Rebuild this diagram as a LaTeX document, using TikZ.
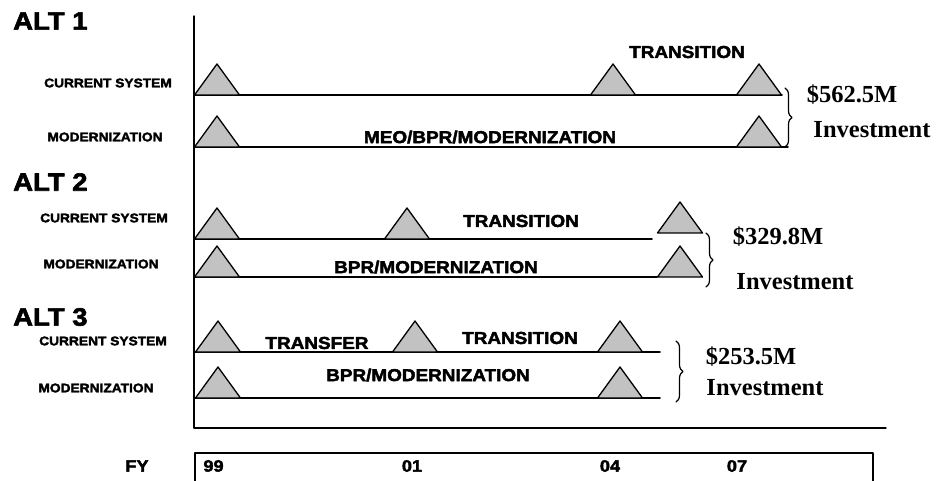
\documentclass[tikz,border=0pt]{standalone}
\usepackage{fontspec}
\setmainfont{Liberation Serif}
\setsansfont{Liberation Sans}[BoldFeatures={FakeBold=2.5,FakeStretch=1.1}]
\usetikzlibrary{decorations.pathreplacing}
\begin{document}
\begin{tikzpicture}[x=1pt,y=-1pt,line join=round,line cap=round]
\tikzset{
	tl/.style={line width=1.6pt},
	ms/.style={draw,line width=1.3pt,fill=gray!48},
	altlbl/.style={font=\sffamily\bfseries\fontsize{25}{25}\selectfont,anchor=west,inner sep=0pt},
	rowlbl/.style={font=\sffamily\bfseries\fontsize{12.5}{12.5}\selectfont,inner sep=0pt},
	phase/.style={font=\sffamily\bfseries\fontsize{17.2}{17.2}\selectfont,inner sep=0pt},
	cost/.style={font=\rmfamily\bfseries\fontsize{24.5}{24.5}\selectfont,inner sep=0pt},
	fylbl/.style={font=\sffamily\bfseries\fontsize{16.5}{16.5}\selectfont,inner sep=0pt},
	bracel/.style={line width=1.2pt,decorate,decoration={brace,amplitude=7pt}},
	milestone/.pic={\draw[ms] (-22.5,0)--(0,-31)--(22.5,0)--cycle;}
}
\useasboundingbox (0,0) rectangle (937,481);
% axes
\draw[line width=1.4pt] (194,16) coordinate (top)--(194,428) coordinate (corner)--(886,428) coordinate (axend);
\draw[line width=1.2pt] (195,481) coordinate (fyl)--(195,453)--(873,453)--(873,481) coordinate (fyr);
% ALT 1
\draw[tl] (194,95) coordinate (a1cs)--(782,95) coordinate (a1ce);
\draw[tl] (194,147) coordinate (a1ms)--(788,147) coordinate (a1me);
\foreach \x in {217,613,759} \pic at (\x,95) {milestone};
\foreach \x in {217,759} \pic at (\x,147) {milestone};
\draw[bracel] (785,88) coordinate (b1t)--(785,147) coordinate (b1b);
% ALT 2
\draw[tl] (194,239) coordinate (a2cs)--(652,239) coordinate (a2ce);
\draw[tl] (194,277) coordinate (a2ms)--(657,277) coordinate (a2me);
\foreach \x in {217,407} \pic at (\x,239) {milestone};
\pic at (680,233) {milestone};
\foreach \x in {217,680} \pic at (\x,277) {milestone};
\draw[bracel] (706,233) coordinate (b2t)--(706,287) coordinate (b2b);
% ALT 3
\draw[tl] (194,352) coordinate (a3cs)--(660,352) coordinate (a3ce);
\draw[tl] (194,398) coordinate (a3ms)--(660,398) coordinate (a3me);
\foreach \x in {218,415,620} \pic at (\x,352) {milestone};
\foreach \x in {218,620} \pic at (\x,398) {milestone};
\draw[bracel] (676,341) coordinate (b3t)--(676,402) coordinate (b3b);
\path
(13,21) node[altlbl] (alt1) {ALT 1}
(13,182) node[altlbl] (alt2) {ALT 2}
(13,317) node[altlbl] (alt3) {ALT 3}
(108,83) node[rowlbl] (cur1) {CURRENT SYSTEM}
(105,137) node[rowlbl] (mod1) {MODERNIZATION}
(104,218) node[rowlbl] (cur2) {CURRENT SYSTEM}
(101,264) node[rowlbl] (mod2) {MODERNIZATION}
(103,341) node[rowlbl] (cur3) {CURRENT SYSTEM}
(96,388) node[rowlbl] (mod3) {MODERNIZATION}
(687,52) node[phase] (tr1) {TRANSITION}
(490,137) node[phase] (meo1) {MEO/BPR/MODERNIZATION}
(521,221) node[phase] (tr2) {TRANSITION}
(436,267) node[phase] (bpr2) {BPR/MODERNIZATION}
(317,343) node[phase] (tf3) {TRANSFER}
(520,338) node[phase] (tr3) {TRANSITION}
(428,375) node[phase] (bpr3) {BPR/MODERNIZATION}
(852,95) node[cost] (c1) {\$562.5M}
(872,130) node[cost] (i1) {Investment}
(778,237) node[cost] (c2) {\$329.8M}
(795,282) node[cost] (i2) {Investment}
(751,357) node[cost] (c3) {\$253.5M}
(765,388) node[cost] (i3) {Investment}
(137,466) node[fylbl] (fy) {FY}
(213.5,466) node[fylbl] (y99) {99}
(412,466) node[fylbl] (y01) {01}
(610,466) node[fylbl] (y04) {04}
(737,466) node[fylbl] (y07) {07}
;
\end{tikzpicture}
\end{document}
